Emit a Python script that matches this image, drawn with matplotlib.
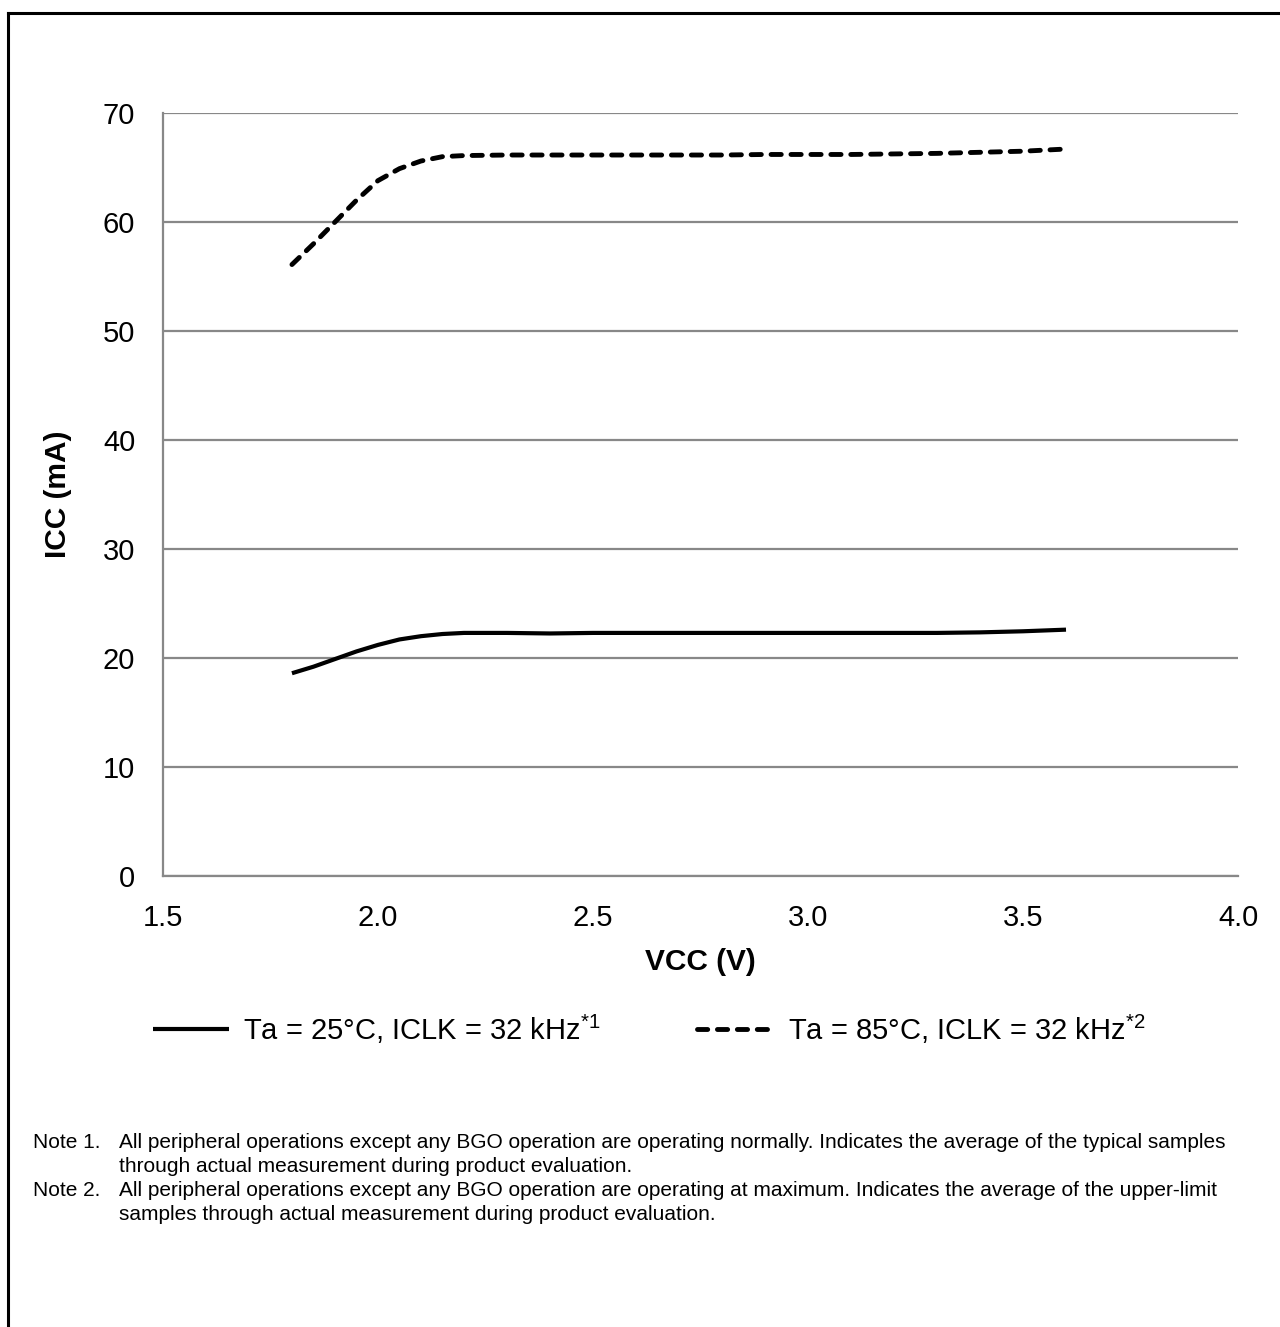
import matplotlib.pyplot as plt
from matplotlib.lines import Line2D

plt.rcParams['font.family'] = ['Liberation Sans', 'DejaVu Sans']
plt.rcParams['mathtext.fontset'] = 'custom'
plt.rcParams['mathtext.rm'] = 'Liberation Sans'
plt.rcParams['mathtext.it'] = 'Liberation Sans'

# valores
vcc = [1.8, 1.85, 1.9, 1.95, 2.0, 2.05, 2.1, 2.15, 2.2, 2.3, 2.4, 2.5, 2.6, 2.7,
       2.8, 2.9, 3.0, 3.1, 3.2, 3.3, 3.4, 3.5, 3.6]
icc_25 = [18.6, 19.2, 19.9, 20.6, 21.2, 21.7, 22.0, 22.2, 22.3, 22.3, 22.25, 22.3, 22.3, 22.3,
          22.3, 22.3, 22.3, 22.3, 22.3, 22.3, 22.35, 22.45, 22.6]
icc_85 = [56.1, 58.0, 60.0, 62.0, 63.8, 64.9, 65.6, 66.0, 66.1, 66.15, 66.15, 66.15, 66.15, 66.15,
          66.15, 66.2, 66.2, 66.2, 66.25, 66.3, 66.4, 66.5, 66.7]

legenda = ['Ta = 25°C, ICLK = 32 kHz$^{*1}$', 'Ta = 85°C, ICLK = 32 kHz$^{*2}$']
notas = [('Note 1.', 'All peripheral operations except any BGO operation are operating normally. Indicates the average of the typical samples'),
         ('', 'through actual measurement during product evaluation.'),
         ('Note 2.', 'All peripheral operations except any BGO operation are operating at maximum. Indicates the average of the upper-limit'),
         ('', 'samples through actual measurement during product evaluation.')]

fig = plt.figure(figsize=(12.8, 13.27), dpi=100)
ax = fig.add_axes([0.1273, 0.3399, 0.8399, 0.5749])

cinza = '#888888'
l1, = ax.plot(vcc, icc_25, color='black', lw=3.0, solid_capstyle='butt')
l2, = ax.plot(vcc, icc_85, color='black', lw=3.5, dash_capstyle='round', dashes=(2.1, 2.0))

ax.set_xlim(1.5, 4.0)
ax.set_ylim(0, 70)
ax.set_xticks([1.5, 2.0, 2.5, 3.0, 3.5, 4.0])
ax.set_xticklabels(['1.5', '2.0', '2.5', '3.0', '3.5', '4.0'])
ax.set_yticks(range(0, 71, 10))
ax.tick_params(length=0, labelsize=21, pad=20)
ax.grid(axis='y', color=cinza, lw=1.6)
ax.set_axisbelow(True)
for s in ['top', 'right']:
    ax.spines[s].set_visible(False)
for s in ['left', 'bottom']:
    ax.spines[s].set_color(cinza)
    ax.spines[s].set_linewidth(1.6)

ax.set_xlabel('VCC (V)', fontsize=21.5, fontweight='bold', labelpad=12)
ax.set_ylabel('ICC (mA)', fontsize=21.5, fontweight='bold', labelpad=22)

fig.legend([l1, l2], legenda, loc='center', bbox_to_anchor=(0.507, 0.2246), ncol=2,
           frameon=False, fontsize=21, handlelength=2.6, columnspacing=3.3, handletextpad=0.5)

y = 1143
for rotulo, texto in notas:
    fig.text(33 / 1280, 1 - y / 1327, rotulo, fontsize=15, va='center')
    fig.text(119 / 1280, 1 - y / 1327, texto, fontsize=15, va='center')
    y += 24

# moldura (so topo e esquerda)
fig.add_artist(Line2D([8 / 1280, 8 / 1280], [0, 1 - 13 / 1327], color='black', lw=2.2))
fig.add_artist(Line2D([8 / 1280, 1], [1 - 13 / 1327, 1 - 13 / 1327], color='black', lw=2.2))

fig.savefig('out.png', dpi=100)
